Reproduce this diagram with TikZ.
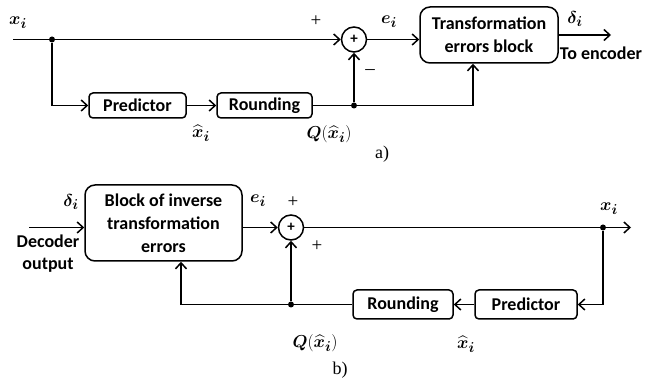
\documentclass[tikz,border=0pt]{standalone}
\usepackage{amsmath}
\usepackage{fontspec}
\setmainfont{Carlito}
\newfontfamily\tnr{Liberation Serif}
\usetikzlibrary{arrows.meta}
\tikzset{
 box/.style={draw, line width=1.5pt, rounded corners=4pt, font=\fontsize{18}{23}\selectfont\bfseries, inner sep=0pt, align=center},
 sumnode/.style={draw, circle, line width=1.5pt, minimum size=25pt, inner sep=0pt, font=\fontsize{15}{15}\selectfont\bfseries},
 conn/.style={line width=1.5pt},
 arr/.style={conn, -{Straight Barb[length=6pt,width=11pt]}},
 dot/.style={circle, fill, inner sep=0pt, minimum size=6pt},
 lbl/.style={font=\fontsize{19}{22}\selectfont, inner sep=0pt},
 sign/.style={font=\tnr\fontsize{19}{19}\selectfont, inner sep=0pt},
}
\begin{document}
\begin{tikzpicture}[x=1pt,y=-1pt]
\useasboundingbox (0,0) rectangle (646,379);
% ---------- a) ----------
\coordinate (ain) at (13,39.5);
\node[dot] (ad1) at (52,39.5) {};
\node[sumnode] (sa) at (354,39.5) {+};
\node[box, minimum width=97pt, minimum height=25pt] (pa) at (137.5,105.5) {Predictor};
\node[box, minimum width=95pt, minimum height=25pt] (ra) at (264.5,105.5) {Rounding};
\node[box, rounded corners=10pt, minimum width=138pt, minimum height=56pt] (ta) at (489,35) {Transformation\\errors block};
\node[dot] (ad2) at (354,105.5) {};
\coordinate (aout) at (611,35);
\draw[conn] (ain) -- (ad1);
\draw[arr] (ad1) -- (sa);
\draw[arr] (ad1) |- (pa.west);
\draw[arr] (pa) -- (ra);
\draw[conn] (ra) -- (ad2);
\draw[arr] (ad2) -- (sa);
\draw[arr] (ad2) -| ([xshift=-16pt]ta.south);
\draw[arr] (sa.east) -- (sa.east -| ta.west);
\draw[arr] (ta.east) -- (aout);
\node[lbl] (lxa) at (18,23) {$\boldsymbol{x_i}$};
\node[sign] (pla) at (316,21) {+};
\node[lbl] (lea) at (389,22) {$\boldsymbol{e_i}$};
\node[lbl] (lda) at (575,19) {$\boldsymbol{\delta_i}$};
\node[lbl, font=\fontsize{18}{22}\selectfont\bfseries] (lenc) at (601,53) {To encoder};
\node[sign] (mia) at (370,72) {\textendash};
\node[lbl] (lha) at (201,133) {$\boldsymbol{\widehat{x}_i}$};
\node[lbl] (lqa) at (329,134) {$\boldsymbol{Q}(\boldsymbol{\widehat{x}_i})$};
\node[lbl, font=\tnr\fontsize{18}{22}\selectfont] (capa) at (382,154) {a)};
% ---------- b) ----------
\coordinate (bin) at (29,227.5);
\node[box, rounded corners=10pt, minimum width=157pt, minimum height=76pt] (ib) at (163.5,223) {Block of inverse\\transformation\\errors};
\node[sumnode] (sb) at (291,227.5) {+};
\node[dot] (bd1) at (603,227.5) {};
\coordinate (bout) at (631,227.5);
\node[box, minimum width=102pt, minimum height=29pt] (pb) at (526,304.5) {Predictor};
\node[box, minimum width=100pt, minimum height=29pt] (rb) at (403,304.5) {Rounding};
\node[dot] (bd2) at (291,304.5) {};
\draw[arr] (bin) -- (bin -| ib.west);
\draw[arr] (sb.west -| ib.east) -- (sb.west);
\draw[conn] (sb) -- (bd1);
\draw[arr] (bd1) -- (bout);
\draw[arr] (bd1) |- (pb.east);
\draw[arr] (pb) -- (rb);
\draw[conn] (rb) -- (bd2);
\draw[arr] (bd2) -- (sb);
\draw[arr] (bd2) -| ([xshift=17.5pt]ib.south);
\node[lbl] (ldb) at (71,202) {$\boldsymbol{\delta_i}$};
\node[lbl, font=\fontsize{18}{22}\selectfont\bfseries] (ldec) at (48,241) {Decoder};
\node[lbl, font=\fontsize{18}{22}\selectfont\bfseries] (lout) at (48,265) {output};
\node[lbl] (leb) at (258,201) {$\boldsymbol{e_i}$};
\node[sign] (plb1) at (293,202) {+};
\node[sign] (plb2) at (317,246) {+};
\node[lbl] (lxb) at (609,209) {$\boldsymbol{x_i}$};
\node[lbl] (lqb) at (315,343) {$\boldsymbol{Q}(\boldsymbol{\widehat{x}_i})$};
\node[lbl] (lhb) at (466,344) {$\boldsymbol{\widehat{x}_i}$};
\node[lbl, font=\tnr\fontsize{18}{22}\selectfont] (capb) at (340,370) {b)};
\end{tikzpicture}
\end{document}
